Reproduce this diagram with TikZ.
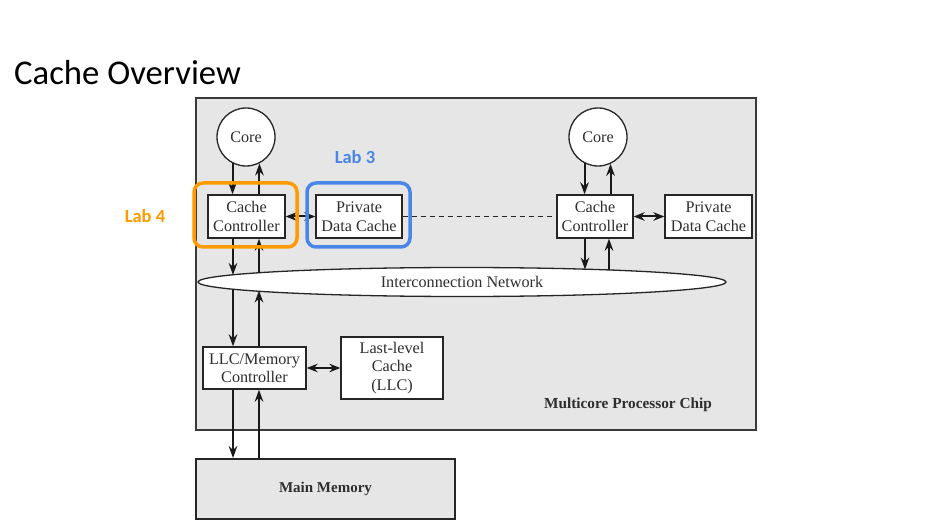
\documentclass[tikz,border=0pt]{standalone}
\usepackage{fontspec}
\setmainfont{Liberation Serif}
\newfontfamily\titlefont{Carlito}
\usetikzlibrary{arrows.meta,shapes.geometric}
\definecolor{chipgray}{HTML}{E6E6E6}
\definecolor{chipedge}{HTML}{3A3A3A}
\definecolor{txt}{HTML}{2E2E2E}
\definecolor{laborange}{HTML}{FF9A00}
\definecolor{labblue}{HTML}{4A86E8}
\tikzset{
  box/.style={draw=black!85, fill=white, line width=1.3pt, align=center, inner sep=0pt,
    text=txt, font=\fontsize{16.2}{18.5}\selectfont},
  corenode/.style={circle, draw=black!85, fill=white, line width=1.3pt, minimum size=58pt,
    inner sep=0pt, text=txt, font=\fontsize{16.2}{18.5}\selectfont},
  arr/.style={-{Stealth[length=12pt,width=8.5pt]}, line width=2pt, draw=black!90},
  darr/.style={{Stealth[length=11pt,width=8.5pt]}-{Stealth[length=11pt,width=8.5pt]}, line width=2pt, draw=black!90},
  labbox/.style={rounded corners=9pt, line width=3.5pt},
  lablabel/.style={font=\titlefont\bfseries\fontsize{18.5}{21}\selectfont},
}
\begin{document}
\begin{tikzpicture}[x=1pt,y=-1pt]
\useasboundingbox[fill=white] (0,0) rectangle (940,529);

% title
\node[anchor=base west, inner sep=0pt, font=\titlefont\fontsize{34.7}{40}\selectfont] (title) at (14,85) {Cache Overview};

% chip
\draw[fill=chipgray, draw=chipedge, line width=2.2pt] (196,98) rectangle (756,430);
\node[font=\bfseries\fontsize{15.3}{18}\selectfont, text=txt] (chiplabel) at (628,405) {Multicore Processor Chip};

% main memory
\node[draw=black!85, fill=chipgray, line width=1.8pt, minimum width=259pt, minimum height=60pt, inner sep=0pt,
  font=\bfseries\fontsize{15}{18}\selectfont, text=txt] (mm) at (325.5,489) {Main Memory};

% cores
\node[corenode] (core1) at (246,137) {Core};
\node[corenode] (core2) at (598,137) {Core};

% cache controllers and private caches
\node[box, minimum width=77pt, minimum height=43pt] (cc1) at (246.5,216.5) {Cache\\Controller};
\node[box, minimum width=86pt, minimum height=43pt] (pdc1) at (359,216.5) {Private\\Data Cache};
\node[box, minimum width=76pt, minimum height=43pt] (cc2) at (595,216.5) {Cache\\Controller};
\node[box, minimum width=87pt, minimum height=43pt] (pdc2) at (708.5,216.5) {Private\\Data Cache};

% interconnection network
\node[ellipse, draw=black!85, fill=white, line width=1.3pt, minimum width=528pt, minimum height=29pt,
  inner sep=0pt, text=txt, font=\fontsize{16.2}{18.5}\selectfont] (net) at (462,282) {Interconnection Network};

% LLC
\node[box, minimum width=103pt, minimum height=42pt] (llcc) at (254.5,368) {LLC/Memory\\Controller};
\node[box, minimum width=102pt, minimum height=62pt] (llc) at (392,368) {Last-level\\Cache\\(LLC)};

% coordinates on the network ellipse
\coordinate (n1t) at (233,275);
\coordinate (n2t) at (259,273.5);
\coordinate (n1b) at (233,289);
\coordinate (n2b) at (259,290.5);
\coordinate (n3t) at (585,269.5);
\coordinate (n4t) at (609,270.5);

% core <-> controller
\draw[arr] (core1.243) -- (core1.243 |- cc1.north);
\draw[arr] (cc1.north -| core1.297) -- (core1.297);
\draw[arr] (core2.243) -- (core2.243 |- cc2.north);
\draw[arr] (cc2.north -| core2.295) -- (core2.295);

% controller <-> network
\draw[arr] (cc1.south -| n1t) -- (n1t);
\draw[arr] (n2t) -- (cc1.south -| n2t);
\draw[arr] (cc2.south -| n3t) -- (n3t);
\draw[arr] (n4t) -- (cc2.south -| n4t);

% network <-> LLC controller
\draw[arr] (n1b) -- (llcc.north -| n1b);
\draw[arr] (llcc.north -| n2b) -- (n2b);

% LLC controller <-> main memory
\draw[arr] (llcc.south -| n1b) -- (mm.north -| n1b);
\draw[arr] (mm.north -| n2b) -- (llcc.south -| n2b);

% horizontal links
\draw[darr] (cc1.east) -- (pdc1.west);
\draw[darr] (cc2.east) -- (pdc2.west);
\draw[darr] (llcc.east) -- (llc.west);
\draw[line width=1.5pt, dash pattern=on 5pt off 4pt, draw=black!85] (pdc1.east) -- (cc2.west);

% lab highlights
\draw[labbox, draw=laborange] (194,183) rectangle (297,247);
\draw[labbox, draw=labblue] (307,183) rectangle (410,247);
\node[lablabel, text=laborange] (lab4) at (145,216) {Lab 4};
\node[lablabel, text=labblue] (lab3) at (355,157) {Lab 3};
\end{tikzpicture}
\end{document}
